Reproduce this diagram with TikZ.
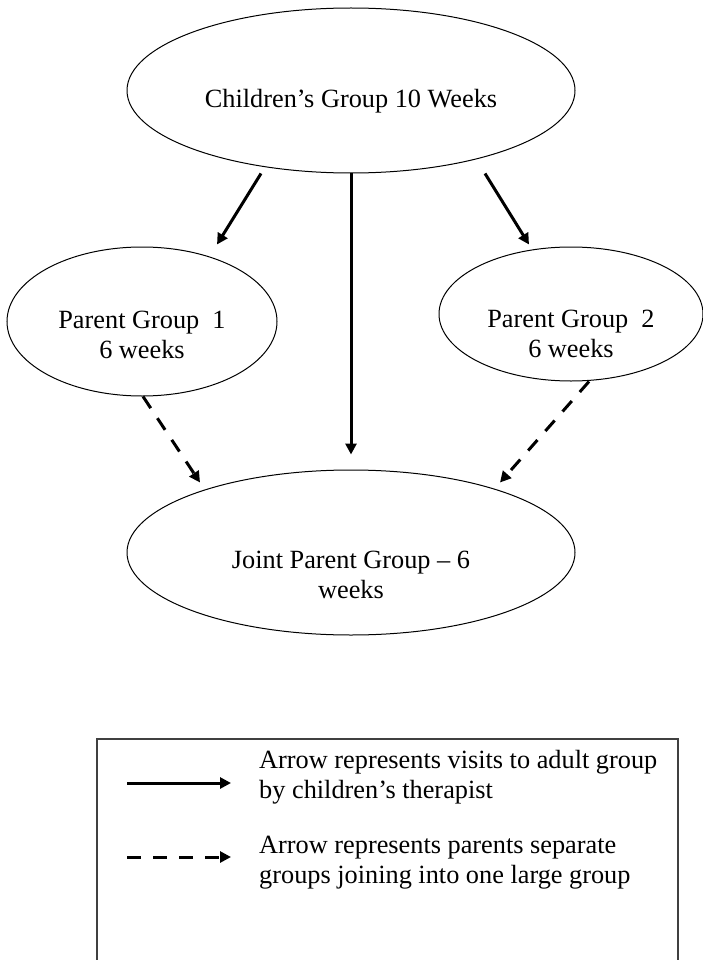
\documentclass[tikz,border=0pt]{standalone}
\usepackage{fontspec}
\setmainfont{Liberation Serif}
\usetikzlibrary{shapes.geometric,arrows.meta}
\newcommand\loweredtext[2]{\raisebox{-#1pt}[0pt][0pt]{\begin{tabular}[t]{@{}c@{}}#2\end{tabular}}}
\begin{document}
\begin{tikzpicture}[x=1pt,y=-1pt,
  every node/.style={font=\fontsize{26.3}{30}\selectfont, inner sep=0pt},
  grp/.style={draw=black, line width=1pt, ellipse, inner sep=0pt},
  visitarrow/.style={line width=3pt, -{Triangle[length=11pt,width=11pt]}},
  mergearrow/.style={line width=3pt, dash pattern=on 14pt off 12pt, -{Triangle[length=11pt,width=11pt]}},
  legendbox/.style={draw=black!75, line width=1.2pt},
]
\useasboundingbox[fill=white] (0,0) rectangle (703,960);

% group ellipses
\node[grp, minimum width=448pt, minimum height=165pt] (top) at (351,90.5)
  {\loweredtext{17.5}{Children's Group 10 Weeks}};
\node[grp, minimum width=270pt, minimum height=149pt] (pg1) at (142,321.5)
  {\loweredtext{6.5}{Parent Group\ \ 1\\6 weeks}};
\node[grp, minimum width=264pt, minimum height=134pt] (pg2) at (571,314)
  {\loweredtext{13}{Parent Group\ \ 2\\6 weeks}};
\node[grp, minimum width=448pt, minimum height=165pt] (joint) at (351,552.5)
  {\loweredtext{15.5}{Joint Parent Group -- 6\\weeks}};

% connectors
\draw[visitarrow] ([xshift=-90pt]top.south) -- ([xshift=75pt,yshift=2pt]pg1.north);
\draw[visitarrow] ([xshift=134pt]top.south) -- ([xshift=-42pt,yshift=2pt]pg2.north);
\draw[visitarrow] (top.south) -- ([yshift=15pt]joint.north);
\draw[mergearrow] ([xshift=1pt]pg1.south) -- ([xshift=-151pt,yshift=-13pt]joint.north);
\draw[mergearrow] ([xshift=18pt]pg2.south) -- ([xshift=149pt,yshift=-13pt]joint.north);

% legend
\coordinate (bl) at (97,960);
\coordinate (tl) at (97,739);
\coordinate (tr) at (678,739);
\coordinate (br) at (678,960);
\draw[legendbox] (bl) -- (tl) -- (tr) -- (br);

\coordinate (ls1) at (127,783);
\coordinate (ls2) at (231,783);
\draw[visitarrow] (ls1) -- (ls2);
\node[anchor=base west] (lt1) at (259,768)
  {\begin{tabular}[t]{@{}l@{}}Arrow represents visits to adult group\\by children's therapist\end{tabular}};

\coordinate (ld1) at (127,857);
\coordinate (ld2) at (231,857);
\draw[mergearrow] (ld1) -- (ld2);
\node[anchor=base west] (lt2) at (259,853)
  {\begin{tabular}[t]{@{}l@{}}Arrow represents parents separate\\groups joining into one large group\end{tabular}};
\end{tikzpicture}
\end{document}
